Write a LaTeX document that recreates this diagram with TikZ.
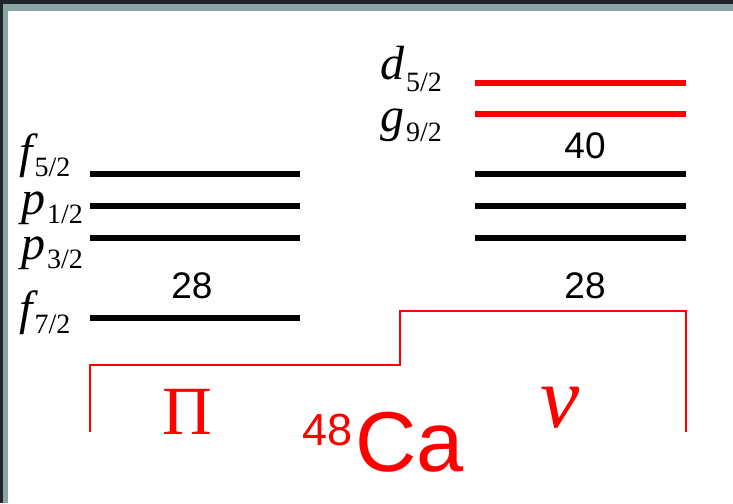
\documentclass[tikz,border=0pt]{standalone}
\usepackage{fontspec}
\usepackage{xcolor}
\setmainfont{Liberation Serif}
\newfontfamily\arialfont{Liberation Sans}
\usetikzlibrary{positioning}

\definecolor{frameDark}{HTML}{1E2528}
\definecolor{frameTeal}{HTML}{8BA5A5}

\tikzset{
  level/.style={line width=5.5pt},
  shell/.style={font=\fontsize{48}{48}\selectfont\itshape,inner sep=0pt,anchor=base west},
  magic/.style={font=\arialfont\fontsize{37}{37}\selectfont,inner sep=0pt,anchor=base},
  bracket/.style={red,line width=1.6pt},
}
% orbital label: letter with lowered upright j subscript
\newcommand{\orb}[3][9pt]{#2\hspace{2pt}\raisebox{-#1}{\fontsize{28}{28}\selectfont\upshape #3}}

\begin{document}
\begin{tikzpicture}[x=1pt,y=-1pt]
  % frame
  \fill[frameDark] (0,0) rectangle (733,503);
  \fill[frameTeal] (3,4) rectangle (733,503);
  \fill[white] (8,11) rectangle (733,503);
  % proton levels
  \foreach \y/\n in {174/pa,206/pb,238/pc,318/pd}
    \draw[level] (90,\y) coordinate (\n-l) -- (300,\y) coordinate (\n-r);
  % neutron levels
  \foreach \y/\n in {174/na,206/nb,238/nc}
    \draw[level] (475,\y) coordinate (\n-l) -- (686,\y) coordinate (\n-r);
  \foreach \y/\n in {83/nd,114/ne}
    \draw[level,red] (475,\y) coordinate (\n-l) -- (686,\y) coordinate (\n-r);
  % orbital labels
  \node[shell] (f52) at (19,167) {\orb{f}{5/2}};
  \node[shell] (p12) at (21,214) {\orb{p}{1/2}};
  \node[shell] (p32) at (21,259) {\orb{p}{3/2}};
  \node[shell] (f72) at (19,324) {\orb{f}{7/2}};
  \node[shell] (d52) at (380,79) {\orb[13pt]{d}{5/2}};
  \node[shell] (g92) at (380,131) {\orb[10pt]{g}{9/2}};
  % magic numbers
  \node[magic] (m28p) at (192,298) {28};
  \node[magic] (m28n) at (585,298) {28};
  \node[magic] (m40) at (585,158) {40};
  % bracket
  \draw[bracket] (90,432) -- (90,365) -- (400,365) -- (400,311) -- (686,311) -- (686,432);
  \node[red,inner sep=0pt,anchor=base,font=\fontsize{69}{69}\selectfont] (pi) at (187,434) {Π};
  \node[red,inner sep=0pt,anchor=base,font=\fontsize{88}{88}\selectfont\itshape] (nu) at (560,427) {ν};
  \node[red,inner sep=0pt,anchor=base west,font=\arialfont\fontsize{85}{85}\selectfont] (ca) at (302,471)
    {\raisebox{26pt}{\fontsize{45}{45}\selectfont 48}\hspace{3pt}Ca};
\end{tikzpicture}
\end{document}
